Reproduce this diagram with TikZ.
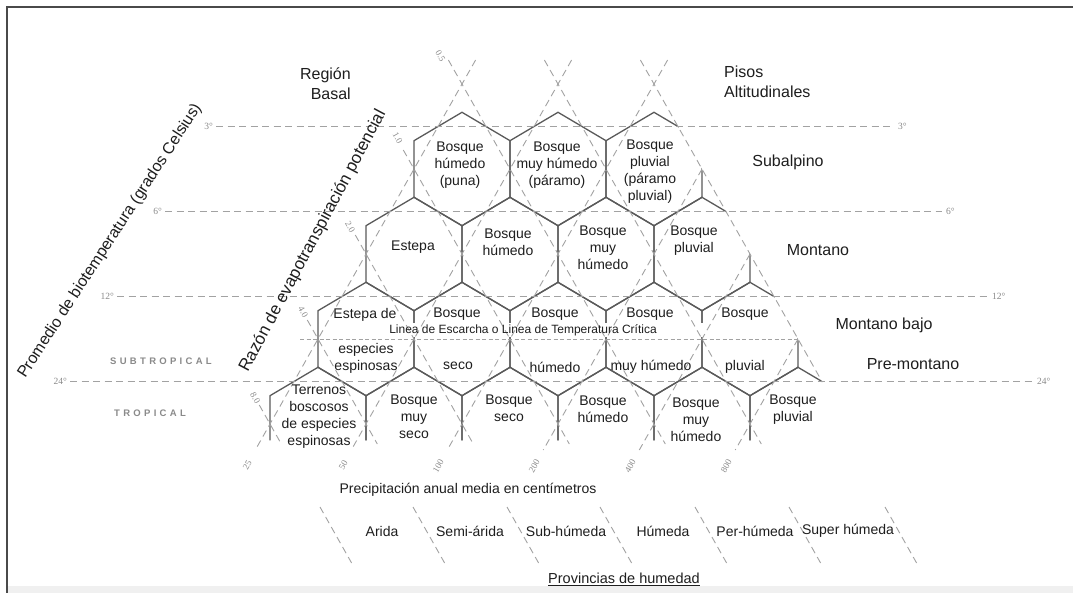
\documentclass[tikz,border=0pt]{standalone}
\usepackage{fontspec}
\setmainfont{Liberation Sans}
\newfontfamily\seriffont{Liberation Serif}
\usetikzlibrary{calc}
\definecolor{hexgray}{HTML}{5A5A5A}
\definecolor{guidegray}{HTML}{A2A2A2}
\definecolor{numgray}{HTML}{8A8A8A}
\definecolor{txt}{HTML}{1E1E1E}
\definecolor{framegray}{HTML}{4A4A4A}
\definecolor{bandgray}{HTML}{F0F0F0}
\newcommand{\lsp}{\hspace{3.3pt}}
\begin{document}
\begin{tikzpicture}[x=1pt,y=-1pt,
  hexline/.style={draw=hexgray,line width=1.3pt,line join=round,line cap=round},
  guide/.style={draw=guidegray,line width=0.9pt,dash pattern=on 7pt off 4.5pt},
  frostline/.style={draw=guidegray,line width=0.9pt,dash pattern=on 4pt off 2.5pt},
  lbl/.style={font=\fontsize{14}{17}\selectfont,align=center,text=txt,inner sep=0pt},
  zone/.style={font=\fontsize{16}{20}\selectfont,text=txt,inner sep=0pt},
  deg/.style={font=\seriffont\fontsize{9.5}{10}\selectfont,text=numgray,inner sep=0pt},
  ratio/.style={font=\seriffont\fontsize{9}{10}\selectfont,text=numgray,inner sep=0pt},
  belt/.style={font=\bfseries\fontsize{9.5}{11}\selectfont,text=numgray,inner sep=0pt},
]
\useasboundingbox (0,0) rectangle (1073,593);
\fill[white] (0,0) rectangle (1073,593);
\fill[bandgray] (7,586) rectangle (1073,593);
% frame
\draw[draw=framegray,line width=1.5pt] (7,593) -- (7,7) -- (1073,7);

% hexagon grid, clipped at the right boundary
\begin{scope}
\clip (-10,-10) -- (600.9,-10) -- (822,381.5) -- (822,445) -- (-10,445) -- cycle;
\foreach \cy/\xs in {169/{462,558,654},254/{414,510,606,702},339/{366,462,558,654,750}}{
  \foreach \cx in \xs {
    \draw[hexline] (\cx,\cy-56.7) -- (\cx+48,\cy-28.3) -- (\cx+48,\cy+28.3) -- (\cx,\cy+56.7) -- (\cx-48,\cy+28.3) -- (\cx-48,\cy-28.3) -- cycle;
  }
}
\foreach \cx in {318,414,510,606,702,798}{
  \draw[hexline] (\cx-48,440) -- (\cx-48,395.7) -- (\cx,367.3) -- (\cx+48,395.7) -- (\cx+48,440);
}
\end{scope}
% white band of the frost line
\fill[white] (330,323.5) rectangle (790,337.5);

% horizontal biotemperature lines
\node[deg,anchor=east] (t3l) at (213,126.5) {3°};
\node[deg,anchor=west] (t3r) at (898,126.5) {3°};
\node[deg,anchor=east] (t6l) at (162,211.5) {6°};
\node[deg,anchor=west] (t6r) at (946,211.5) {6°};
\node[deg,anchor=east] (t12l) at (114,296.5) {12°};
\node[deg,anchor=west] (t12r) at (992,296.5) {12°};
\node[deg,anchor=east] (t24l) at (67,381.5) {24°};
\node[deg,anchor=west] (t24r) at (1037,381.5) {24°};
\draw[guide,shorten <=3pt,shorten >=4pt] (t3l.east) -- (t3r.west);
\draw[guide,shorten <=3pt,shorten >=4pt] (t6l.east) -- (t6r.west);
\draw[guide,shorten <=3pt,shorten >=4pt] (t12l.east) -- (t12r.west);
\draw[guide,shorten <=3pt,shorten >=4pt] (t24l.east) -- (t24r.west);

% frost line
\coordinate (frostA) at (300,339);
\coordinate (frostB) at (798,339);
\draw[frostline] (frostA) -- (frostB);

% PET ratio lines (down to the right)
\node[ratio,rotate=-60.5] (r05) at (440.4,56) {0.5};
\node[ratio,rotate=-60.5] (r1) at (397.6,138) {1.0};
\node[ratio,rotate=-60.5] (r2) at (350.2,227) {2.0};
\node[ratio,rotate=-60.5] (r4) at (303.2,312) {4.0};
\node[ratio,rotate=-60.5] (r8) at (255.3,398) {8.0};
\coordinate (b05a) at (448.4,60); \coordinate (b05b) at (665.3,444);
\coordinate (b1a) at (403.3,150); \coordinate (b1b) at (569.3,444);
\coordinate (b2a) at (355.3,235); \coordinate (b2b) at (473.3,444);
\coordinate (b4a) at (307.3,320); \coordinate (b4b) at (377.3,444);
\coordinate (b8a) at (259.3,405); \coordinate (b8b) at (281.3,444);
\coordinate (bma) at (544.4,60); \coordinate (bmb) at (761.3,444);
\coordinate (bra) at (640.4,60); \coordinate (brb) at (822,381.5);
\draw[guide] (b05a) -- (b05b);
\draw[guide] (b1a) -- (b1b);
\draw[guide] (b2a) -- (b2b);
\draw[guide] (b4a) -- (b4b);
\draw[guide] (b8a) -- (b8b);
\draw[guide] (bma) -- (bmb);
\draw[guide] (bra) -- (brb);

% precipitation lines (up to the right)
\coordinate (a25a) at (475.6,60); \coordinate (a25b) at (255.3,450);
\coordinate (a50a) at (571.6,60); \coordinate (a50b) at (351.3,450);
\coordinate (a100a) at (667.6,60); \coordinate (a100b) at (447.3,450);
\coordinate (a200a) at (702,169); \coordinate (a200b) at (543.3,450);
\coordinate (a400a) at (750,254); \coordinate (a400b) at (639.3,450);
\coordinate (a800a) at (798,339); \coordinate (a800b) at (735.3,450);
\draw[guide] (a25a) -- (a25b);
\draw[guide] (a50a) -- (a50b);
\draw[guide] (a100a) -- (a100b);
\draw[guide] (a200a) -- (a200b);
\draw[guide] (a400a) -- (a400b);
\draw[guide] (a800a) -- (a800b);
\node[ratio,rotate=60.5] (p25) at (247.3,465) {25};
\node[ratio,rotate=60.5] (p50) at (343.3,465) {50};
\node[ratio,rotate=60.5] (p100) at (438.3,466) {100};
\node[ratio,rotate=60.5] (p200) at (534.3,466) {200};
\node[ratio,rotate=60.5] (p400) at (630.3,466) {400};
\node[ratio,rotate=60.5] (p800) at (726.3,466) {800};

% humidity province separators
\foreach \sx [count=\i] in {320,413,507,600,695,789,885}{
  \coordinate (sepa\i) at (\sx,507);
  \coordinate (sepb\i) at (\sx+31.6,563);
  \draw[guide] (sepa\i) -- (sepb\i);
}

% axis titles
\node[rotate=57,font=\fontsize{16}{20}\selectfont,text=txt,inner sep=0pt] (tempaxis) at (110,241) {Promedio de biotemperatura (grados Celsius)};
\node[rotate=62,font=\fontsize{17}{20}\selectfont,text=txt,inner sep=0pt] (petaxis) at (313,241) {Razón de evapotranspiración potencial};

% region labels
\node[zone,anchor=east,align=right] (basal) at (351,84) {Región\\Basal};
\node[zone,anchor=west,align=left] (pisos) at (724,82) {Pisos\\Altitudinales};
\node[zone] (subalp) at (788,162) {Subalpino};
\node[zone] (mont) at (818,250) {Montano};
\node[zone] (montb) at (884,325) {Montano bajo};
\node[zone] (premont) at (913,364) {Pre-montano};
\node[belt] (subtrop) at (161,361) {S\lsp U\lsp B\lsp T\lsp R\lsp O\lsp P\lsp I\lsp C\lsp A\lsp L};
\node[belt] (trop) at (150,413) {T\lsp R\lsp O\lsp P\lsp I\lsp C\lsp A\lsp L};

% hexagon labels
\node[lbl] (h11) at (460,165) {Bosque\\húmedo\\(puna)};
\node[lbl] (h12) at (557,165) {Bosque\\muy húmedo\\(páramo)};
\node[lbl] (h13) at (650,172) {Bosque\\pluvial\\(páramo\\pluvial)};
\node[lbl] (h21) at (413,247) {Estepa};
\node[lbl] (h22) at (508,242) {Bosque\\húmedo};
\node[lbl] (h23) at (603,248) {Bosque\\muy\\húmedo};
\node[lbl] (h24) at (694,241) {Bosque\\pluvial};
\node[lbl] (h31) at (365,315) {Estepa de};
\node[lbl] (h32) at (457,314) {Bosque};
\node[lbl] (h33) at (555,314) {Bosque};
\node[lbl] (h34) at (650,314) {Bosque};
\node[lbl] (h35) at (745,314) {Bosque};
\node[font=\fontsize{12}{14}\selectfont,text=txt,inner sep=0pt] (frostlbl) at (523,330) {Linea de Escarcha o Linea de Temperatura Crítica};
\node[lbl] (h41) at (366,358) {especies\\espinosas};
\node[lbl] (h42) at (458,366) {seco};
\node[lbl] (h43) at (555,367) {húmedo};
\node[lbl] (h44) at (651,367) {muy húmedo};
\node[lbl] (h45) at (745,367) {pluvial};
\node[lbl] (h51) at (319,417) {Terrenos\\boscosos\\de especies\\espinosas};
\node[lbl] (h52) at (414,417) {Bosque\\muy\\seco};
\node[lbl] (h53) at (509,408) {Bosque\\seco};
\node[lbl] (h54) at (603,409) {Bosque\\húmedo};
\node[lbl] (h55) at (696,420) {Bosque\\muy\\húmedo};
\node[lbl] (h56) at (793,410) {Bosque\\pluvial};

% bottom texts
\node[lbl] (precip) at (468,490) {Precipitación anual media en centímetros};
\node[lbl] (prov1) at (382,531) {Arida};
\node[lbl] (prov2) at (470,531) {Semi-árida};
\node[lbl] (prov3) at (566,531) {Sub-húmeda};
\node[lbl] (prov4) at (663,531) {Húmeda};
\node[lbl] (prov5) at (755,531) {Per-húmeda};
\node[lbl] (prov6) at (848,531) {Super húmeda};
\node[font=\fontsize{14.5}{17}\selectfont,text=txt,inner sep=0pt,anchor=base] (provt) at (624,583) {Provincias de humedad};
\draw[draw=txt,line width=1.6pt] ($(provt.base west)+(0,2.6)$) -- ($(provt.base east)+(0,2.6)$);
\end{tikzpicture}
\end{document}
